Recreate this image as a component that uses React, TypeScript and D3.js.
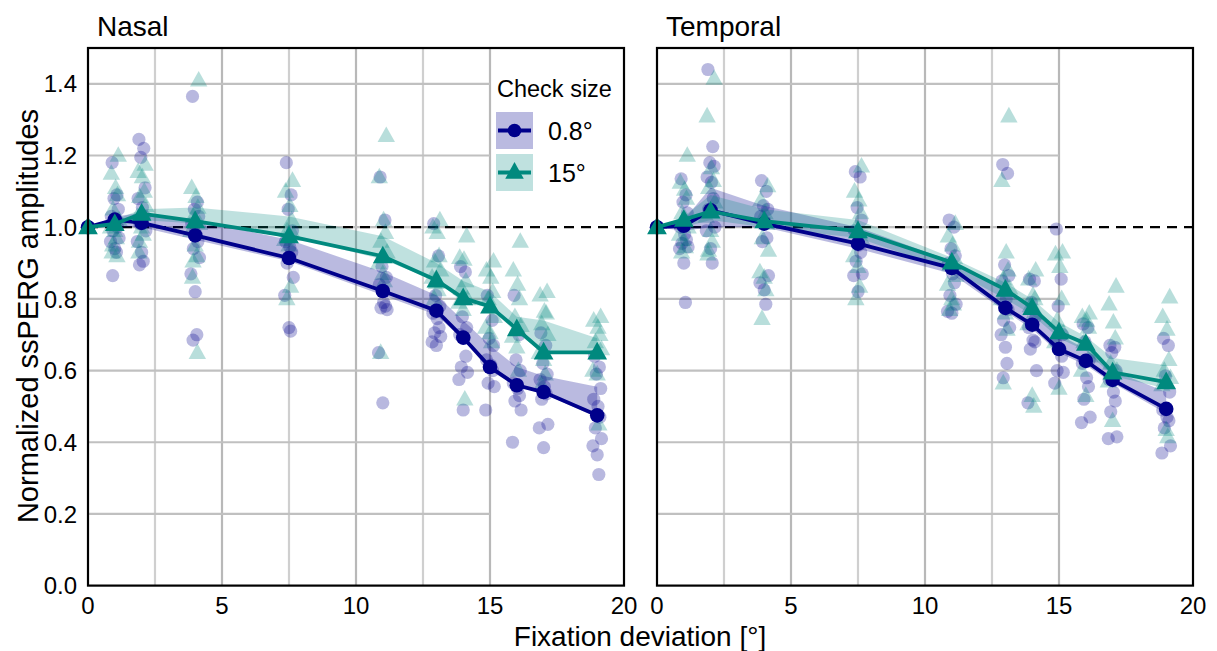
import React from 'react';
import * as d3 from 'd3';

// fixation deviations (deg)
const xs = [0, 1, 2, 4, 7.5, 11, 13, 14, 15, 16, 17, 19];
const xTicks = [0, 5, 10, 15, 20];
const yTicks = [0, 0.2, 0.4, 0.6, 0.8, 1.0, 1.2, 1.4];

// Nasal, 0.8 deg checks
const nasalSmallMean = [1.0, 1.021, 1.012, 0.977, 0.914, 0.822, 0.767, 0.692, 0.61, 0.559, 0.54, 0.475];
const nasalSmallLo = [1.0, 1.0, 1.0, 0.965, 0.905, 0.81, 0.755, 0.685, 0.6, 0.555, 0.535, 0.47];
const nasalSmallHi = [1.0, 1.03, 1.04, 1.02, 0.965, 0.875, 0.81, 0.74, 0.67, 0.61, 0.585, 0.555];
// Nasal, 15 deg checks
const nasalLargeMean = [1.0, 1.009, 1.038, 1.017, 0.975, 0.919, 0.852, 0.802, 0.779, 0.716, 0.651, 0.651];
const nasalLargeLo = [1.0, 1.0, 1.02, 1.01, 0.975, 0.91, 0.85, 0.79, 0.775, 0.705, 0.65, 0.645];
const nasalLargeHi = [1.0, 1.02, 1.05, 1.055, 1.03, 0.975, 0.9, 0.85, 0.82, 0.75, 0.74, 0.69];
// Temporal, 0.8 deg checks
const tempSmallMean = [1.0, 1.004, 1.047, 1.01, 0.954, 0.886, 0.775, 0.728, 0.66, 0.627, 0.574, 0.493];
const tempSmallLo = [1.0, 0.99, 1.0, 1.0, 0.94, 0.87, 0.765, 0.715, 0.65, 0.615, 0.565, 0.48];
const tempSmallHi = [1.0, 1.02, 1.11, 1.06, 1.0, 0.905, 0.82, 0.77, 0.7, 0.66, 0.6, 0.54];
// Temporal, 15 deg checks
const tempLargeMean = [1.0, 1.021, 1.044, 1.017, 0.989, 0.902, 0.826, 0.775, 0.707, 0.675, 0.595, 0.568];
const tempLargeLo = [1.0, 1.0, 1.02, 1.0, 0.97, 0.88, 0.8, 0.755, 0.69, 0.655, 0.585, 0.55];
const tempLargeHi = [1.0, 1.03, 1.09, 1.05, 1.02, 0.915, 0.845, 0.8, 0.735, 0.695, 0.635, 0.615];

// individual subjects, one list per deviation
const nasalSmallPts = [
  [1, 1, 1, 1, 1, 1, 1, 1, 1, 1, 1, 1],
  [1.18, 1.09, 1.08, 1.05, 1.03, 1.02, 1.0, 0.99, 0.97, 0.96, 0.94, 0.93, 0.865],
  [1.245, 1.22, 1.195, 1.11, 1.08, 1.055, 1.03, 1.01, 0.99, 0.96, 0.93, 0.905, 0.895],
  [1.365, 1.07, 1.05, 1.03, 1.01, 0.98, 0.96, 0.94, 0.915, 0.87, 0.82, 0.7, 0.685],
  [1.18, 1.09, 1.05, 0.99, 0.96, 0.945, 0.93, 0.9, 0.86, 0.81, 0.72, 0.71],
  [1.14, 1.02, 0.89, 0.86, 0.84, 0.79, 0.78, 0.775, 0.77, 0.65, 0.51],
  [1.01, 0.92, 0.81, 0.78, 0.76, 0.745, 0.72, 0.705, 0.695, 0.68, 0.67],
  [0.89, 0.875, 0.75, 0.72, 0.7, 0.69, 0.64, 0.61, 0.595, 0.575, 0.49],
  [0.81, 0.74, 0.69, 0.67, 0.63, 0.615, 0.6, 0.565, 0.555, 0.49],
  [0.81, 0.7, 0.63, 0.6, 0.565, 0.55, 0.53, 0.515, 0.49, 0.4],
  [0.705, 0.67, 0.62, 0.59, 0.575, 0.555, 0.535, 0.52, 0.45, 0.44, 0.385],
  [0.64, 0.61, 0.59, 0.55, 0.52, 0.5, 0.47, 0.44, 0.41, 0.39, 0.365, 0.31],
];
const nasalLargePts = [
  [1, 1, 1, 1, 1, 1, 1, 1, 1, 1],
  [1.2, 1.15, 1.11, 1.09, 1.05, 1.02, 1.0, 0.99, 0.97, 0.95, 0.93, 0.92],
  [1.175, 1.155, 1.14, 1.1, 1.085, 1.06, 1.03, 1.0, 0.98, 0.96, 0.93],
  [1.41, 1.11, 1.085, 1.055, 1.03, 1.01, 0.99, 0.95, 0.92, 0.905, 0.86, 0.65],
  [1.13, 1.1, 1.06, 1.02, 0.99, 0.98, 0.965, 0.95, 0.835, 0.8],
  [1.255, 1.14, 1.02, 0.985, 0.96, 0.93, 0.9, 0.87, 0.85, 0.65],
  [1.02, 1.0, 0.985, 0.92, 0.905, 0.88, 0.86, 0.845, 0.825, 0.8],
  [0.975, 0.915, 0.91, 0.85, 0.83, 0.8, 0.79, 0.77, 0.52],
  [0.905, 0.88, 0.86, 0.82, 0.8, 0.75, 0.72, 0.705, 0.68],
  [0.96, 0.88, 0.84, 0.8, 0.75, 0.725, 0.695, 0.665, 0.6],
  [0.82, 0.81, 0.765, 0.76, 0.73, 0.7, 0.65, 0.63, 0.59, 0.56],
  [0.75, 0.74, 0.72, 0.7, 0.68, 0.66, 0.6, 0.59, 0.45],
];
const tempSmallPts = [
  [1, 1, 1, 1, 1, 1, 1, 1, 1, 1, 1, 1],
  [1.135, 1.09, 1.07, 1.04, 1.0, 0.98, 0.965, 0.955, 0.945, 0.94, 0.9, 0.79],
  [1.44, 1.225, 1.18, 1.17, 1.14, 1.125, 1.08, 1.05, 1.0, 0.99, 0.94, 0.9],
  [1.13, 1.1, 1.06, 1.05, 1.03, 1.015, 0.97, 0.96, 0.865, 0.845, 0.825, 0.785],
  [1.155, 1.14, 1.055, 1.02, 0.99, 0.95, 0.93, 0.905, 0.87, 0.865, 0.82],
  [1.02, 1.0, 0.94, 0.92, 0.9, 0.87, 0.845, 0.81, 0.785, 0.765, 0.76],
  [1.175, 1.15, 0.895, 0.865, 0.85, 0.8, 0.77, 0.74, 0.72, 0.7, 0.665, 0.62, 0.58],
  [0.855, 0.85, 0.79, 0.75, 0.72, 0.685, 0.68, 0.66, 0.6, 0.51],
  [0.995, 0.855, 0.78, 0.7, 0.68, 0.66, 0.64, 0.6, 0.595, 0.565],
  [0.73, 0.72, 0.68, 0.63, 0.62, 0.58, 0.555, 0.52, 0.47, 0.455],
  [0.67, 0.665, 0.65, 0.6, 0.575, 0.54, 0.515, 0.485, 0.415, 0.41],
  [0.69, 0.67, 0.585, 0.54, 0.49, 0.47, 0.46, 0.44, 0.39, 0.37],
];
const tempLargePts = [
  [1, 1, 1, 1, 1, 1, 1, 1, 1, 1],
  [1.2, 1.125, 1.105, 1.08, 1.04, 1.0, 0.98, 0.965, 0.945, 0.93],
  [1.415, 1.31, 1.165, 1.13, 1.11, 1.07, 1.03, 0.99, 0.96, 0.935, 0.925],
  [1.115, 1.075, 1.04, 1.01, 0.97, 0.935, 0.875, 0.86, 0.825, 0.745],
  [1.17, 1.1, 1.075, 1.04, 1.0, 0.965, 0.92, 0.89, 0.835, 0.8],
  [1.01, 0.975, 0.95, 0.915, 0.895, 0.865, 0.84, 0.8, 0.785, 0.77],
  [1.31, 1.13, 0.93, 0.88, 0.855, 0.83, 0.8, 0.76, 0.715, 0.565],
  [0.88, 0.855, 0.81, 0.8, 0.78, 0.76, 0.73, 0.53, 0.5],
  [0.93, 0.925, 0.89, 0.8, 0.74, 0.705, 0.68, 0.55],
  [0.76, 0.75, 0.74, 0.72, 0.68, 0.64, 0.6, 0.53],
  [0.835, 0.785, 0.735, 0.69, 0.62, 0.6, 0.57, 0.46],
  [0.805, 0.75, 0.715, 0.63, 0.6, 0.58, 0.56, 0.435, 0.415],
];

// fixed horizontal spread of the dots, in degrees
const jitter = [-0.1, 0.08, -0.03, 0.13, -0.13, 0.03, 0.1, -0.07, 0.16, -0.16, 0.0, 0.06, -0.08];

const NAVY = '#00008b';
const TEAL = '#00897e';
const FONT = 'Liberation Sans, Arial, Helvetica, sans-serif';

const panels = [
  { title: 'Nasal', left: 88, small: [nasalSmallMean, nasalSmallLo, nasalSmallHi, nasalSmallPts], large: [nasalLargeMean, nasalLargeLo, nasalLargeHi, nasalLargePts] },
  { title: 'Temporal', left: 657, small: [tempSmallMean, tempSmallLo, tempSmallHi, tempSmallPts], large: [tempLargeMean, tempLargeLo, tempLargeHi, tempLargePts] },
];

const top = 48;
const bottom = 585.6;
const pw = 536;

const tri = (cx, cy, s) => `M${cx},${cy - s * 0.62}L${cx + s * 0.58},${cy + s * 0.42}L${cx - s * 0.58},${cy + s * 0.42}Z`;

const Panel = ({ p, showY }) => {
  const x = d3.scaleLinear().domain([0, 20]).range([p.left, p.left + pw]);
  const y = d3.scaleLinear().domain([0, 1.5]).range([bottom, top]);
  const band = (lo, hi) => d3.area().x((d, i) => x(xs[i])).y0((d, i) => y(lo[i])).y1((d, i) => y(hi[i]))(xs);
  const line = (m) => d3.line().x((d, i) => x(xs[i])).y((d, i) => y(m[i]))(xs);
  const [sM, sLo, sHi, sPts] = p.small;
  const [lM, lLo, lHi, lPts] = p.large;

  return (
    <g>
      {/* grid */}
      {[2.5, 5, 7.5, 10, 12.5, 15].map(v => (
        <line key={'v' + v} x1={x(v)} x2={x(v)} y1={y(0)} y2={y(1.5)}
          stroke={v % 5 === 0 ? '#b8b8b8' : '#cfcfcf'} strokeWidth={2.2} />
      ))}
      {[0.2, 0.4, 0.6, 0.8, 1.0, 1.2, 1.4].map(v => (
        <line key={'h' + v} x1={x(0)} x2={x(15)} y1={y(v)} y2={y(v)} stroke="#c0c0c0" strokeWidth={2.2} />
      ))}
      <line x1={x(0)} x2={x(20)} y1={y(1)} y2={y(1)} stroke="#000" strokeWidth={2.2} strokeDasharray="10,7" />

      {/* individual subjects */}
      {sPts.map((arr, i) => arr.map((v, j) => (
        <circle key={'sc' + i + '-' + j} cx={x(xs[i] + (i === 0 ? 0 : jitter[j % jitter.length]))} cy={y(v)} r={6.6}
          fill={NAVY} fillOpacity={0.28} />
      )))}
      {lPts.map((arr, i) => arr.map((v, j) => (
        <path key={'lt' + i + '-' + j} d={tri(x(xs[i] + (i === 0 ? 0 : jitter[(j + 3) % jitter.length])), y(v), 15)}
          fill={TEAL} fillOpacity={0.28} />
      )))}

      {/* bands */}
      <path d={band(sLo, sHi)} fill={NAVY} fillOpacity={0.27} />
      <path d={band(lLo, lHi)} fill={TEAL} fillOpacity={0.25} />

      {/* mean lines */}
      <path d={line(sM)} fill="none" stroke={NAVY} strokeWidth={3.8} />
      {sM.map((v, i) => <circle key={'sm' + i} cx={x(xs[i])} cy={y(v)} r={7.3} fill={NAVY} />)}
      <path d={line(lM)} fill="none" stroke={TEAL} strokeWidth={3.8} />
      {lM.map((v, i) => <path key={'lm' + i} d={tri(x(xs[i]), y(v), 17)} fill={TEAL} />)}

      {/* frame */}
      <rect x={p.left} y={top} width={pw} height={bottom - top} fill="none" stroke="#000" strokeWidth={2.2} />

      {xTicks.map(t => (
        <text key={'xt' + t} x={x(t)} y={614} textAnchor="middle" fontSize={24} fontFamily={FONT}>{t}</text>
      ))}
      {showY && yTicks.map(t => (
        <text key={'yt' + t} x={77} y={y(t)} dy="0.36em" textAnchor="end" fontSize={24} fontFamily={FONT}>{t.toFixed(1)}</text>
      ))}
      <text x={p.left + 9} y={36} fontSize={28} fontFamily={FONT}>{p.title}</text>
    </g>
  );
};

export default function App() {
  return (
    <svg width={1217} height={651} style={{ position: 'absolute', left: 0, top: 0, background: '#fff' }}>
      <rect width={1217} height={651} fill="#fff" />
      {panels.map((p, i) => <Panel key={p.title} p={p} showY={i === 0} />)}

      {/* legend */}
      <g fontFamily={FONT}>
        <text x={497} y={97} fontSize={23.5}>Check size</text>
        <rect x={496} y={112} width={37} height={37} fill={NAVY} fillOpacity={0.27} />
        <line x1={498} x2={531} y1={130.5} y2={130.5} stroke={NAVY} strokeWidth={3.8} />
        <circle cx={514.5} cy={130.5} r={6.8} fill={NAVY} />
        <text x={548} y={140} fontSize={25}>0.8°</text>
        <rect x={496} y={154} width={37} height={37} fill={TEAL} fillOpacity={0.25} />
        <line x1={498} x2={531} y1={172.5} y2={172.5} stroke={TEAL} strokeWidth={3.8} />
        <path d={tri(514.5, 172, 16)} fill={TEAL} />
        <text x={548} y={182} fontSize={25}>15°</text>
      </g>

      <text x={640} y={646} textAnchor="middle" fontSize={28} fontFamily={FONT}>Fixation deviation [°]</text>
      <text transform="translate(38,316) rotate(-90)" textAnchor="middle" fontSize={29} fontFamily={FONT}>Normalized ssPERG amplitudes</text>
    </svg>
  );
}
